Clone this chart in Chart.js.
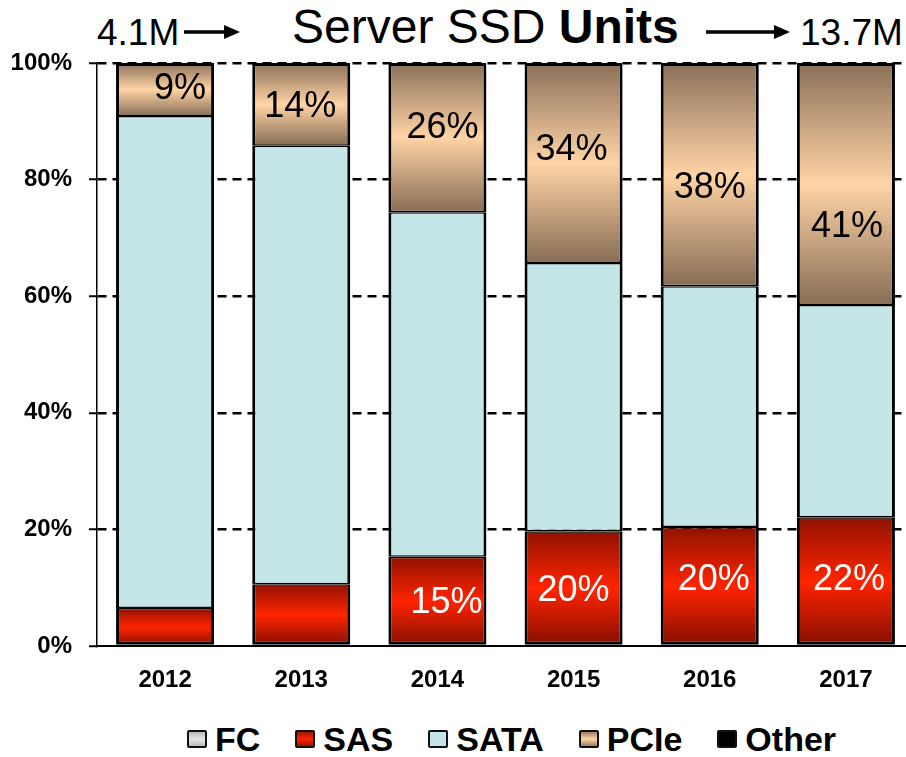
<!DOCTYPE html>
<html>
<head>
<meta charset="utf-8">
<script src="https://cdn.jsdelivr.net/npm/chart.js@4.4.1/dist/chart.umd.min.js"></script>
<style>
  html, body { margin: 0; padding: 0; background: #fff; overflow: hidden; }
  body { width: 906px; height: 757px; position: relative; font-family: "Liberation Sans", Arial, sans-serif; }
  #wrap { position: absolute; left: 0; top: 0; width: 916px; height: 700px; }
  .t { position: absolute; line-height: 1; white-space: nowrap; color: #000; }
  .arrow { position: absolute; }
  #legend { position: absolute; top: 722px; left: 187px; display: flex; align-items: center; }
  #legend .item { display: flex; align-items: center; margin-right: 35px; }
  #legend .box { width: 16px; height: 14px; border: 2px solid #111; border-radius: 2px; margin-right: 8px; }
  #legend .lbl { font-weight: bold; font-size: 34px; line-height: 1; }
</style>
</head>
<body>
<div class="t" style="left:97px; top:14px; font-size:37px;">4.1M</div>
<svg class="arrow" style="left:184px; top:22px;" width="58" height="20">
  <line x1="0" y1="10" x2="44" y2="10" stroke="#000" stroke-width="3.5"/>
  <polygon points="40,3 56,10 40,17" fill="#000"/>
</svg>
<div class="t" style="left:292px; top:3px; font-size:48px;">Server SSD <b>Units</b></div>
<svg class="arrow" style="left:706px; top:22px;" width="86" height="20">
  <line x1="0" y1="10" x2="72" y2="10" stroke="#000" stroke-width="3.5"/>
  <polygon points="68,3 84,10 68,17" fill="#000"/>
</svg>
<div class="t" style="left:800px; top:14px; font-size:37px;">13.7M</div>

<div id="wrap"><canvas id="chart"></canvas></div>
<div id="legend"></div>

<script>
const years = ["2012", "2013", "2014", "2015", "2016", "2017"];
const fcShare = [0, 0, 0, 0, 0, 0];
const sasShare = [6.5, 10.6, 15.3, 19.7, 20.4, 22.1];
const sataShare = [84.4, 75.2, 59.1, 46.0, 41.3, 36.4];
const pcieShare = [9.1, 14.2, 25.6, 34.3, 38.3, 41.5];
const otherShare = [0, 0, 0, 0, 0, 0];
const pcieLabels = ["9%", "14%", "26%", "34%", "38%", "41%"];
const sasLabels = ["", "", "15%", "20%", "20%", "22%"];
const yTicks = [0, 20, 40, 60, 80, 100];

// vertical gradient spanning one stacked segment
function segGradient(stops) {
  return (ctx) => {
    const chart = ctx.chart;
    if (ctx.type !== "data" || !chart.chartArea) return stops[1];
    const i = ctx.dataIndex;
    let base = 0;
    for (let k = 0; k < ctx.datasetIndex; k++) base += chart.data.datasets[k].data[i];
    const y0 = chart.scales.y.getPixelForValue(base + ctx.raw);
    const y1 = chart.scales.y.getPixelForValue(base);
    if (!(y1 > y0)) return stops[1];
    const g = chart.ctx.createLinearGradient(0, y0, 0, y1);
    g.addColorStop(0, stops[0]);
    g.addColorStop(0.5, stops[1]);
    g.addColorStop(1, stops[2]);
    return g;
  };
}

const sasStops = ["#8f1200", "#ff2400", "#830e00"];
const pcieStops = ["#8a7058", "#ffd4a6", "#876d55"];

const segmentLabels = {
  id: "segmentLabels",
  afterDatasetsDraw(chart, args, opts) {
    const { ctx } = chart;
    ctx.save();
    ctx.font = "36px 'Liberation Sans', Arial, sans-serif";
    ctx.textAlign = "center";
    ctx.textBaseline = "middle";
    opts.sets.forEach((s) => {
      const meta = chart.getDatasetMeta(s.dataset);
      meta.data.forEach((bar, i) => {
        const txt = s.labels[i];
        if (!txt) return;
        const off = s.offsets[i];
        ctx.fillStyle = s.color;
        ctx.fillText(txt, bar.x + off[0], (bar.y + bar.base) / 2 + off[1]);
      });
    });
    ctx.restore();
  },
};

const chart = new Chart(document.getElementById("chart"), {
  type: "bar",
  data: {
    labels: years,
    datasets: [
      { label: "FC", data: fcShare, backgroundColor: "#d0d0d0", borderWidth: 0, legendFill: "linear-gradient(#bbb,#e6e6e6,#bbb)" },
      { label: "SAS", data: sasShare, backgroundColor: segGradient(sasStops), borderColor: "#000", borderWidth: { left: 3, right: 3, top: 1.5, bottom: 3 }, legendFill: "linear-gradient(#a01400,#ff2400,#a01400)" },
      { label: "SATA", data: sataShare, backgroundColor: "#c4e6e8", borderColor: "#000", borderWidth: { left: 3, right: 3, top: 1.5, bottom: 1.5 }, legendFill: "#c4e6e8" },
      { label: "PCIe", data: pcieShare, backgroundColor: segGradient(pcieStops), borderColor: "#000", borderWidth: { left: 3, right: 3, top: 3, bottom: 1.5 }, legendFill: "linear-gradient(#9a7e62,#ffd4a6,#9a7e62)" },
      { label: "Other", data: otherShare, backgroundColor: "#000", borderWidth: 0, legendFill: "#000" },
    ],
  },
  options: {
    responsive: true,
    maintainAspectRatio: false,
    animation: false,
    layout: { padding: { left: 0, top: 63, right: 2, bottom: 0 } },
    datasets: { bar: { barPercentage: 0.72, categoryPercentage: 1, borderSkipped: false } },
    plugins: {
      legend: { display: false },
      tooltip: { enabled: false },
      segmentLabels: {
        sets: [
          { dataset: 3, labels: pcieLabels, color: "#000",
            offsets: [[15, 0], [-1, 3], [5, -10], [-2, -13], [0, 13], [1, 43]] },
          { dataset: 1, labels: sasLabels, color: "#fff",
            offsets: [[0, 0], [0, 0], [9, 2], [0, 3], [4, -6], [3, -1]] },
        ],
      },
    },
    scales: {
      x: {
        stacked: true,
        afterFit: (s) => { s.height = 54; },
        grid: { display: false, drawTicks: false },
        border: { display: true, color: "#000", width: 2 },
        ticks: { color: "#000", padding: 20, font: { family: "'Liberation Sans', Arial, sans-serif", size: 24, weight: "bold" } },
      },
      y: {
        stacked: true,
        min: 0,
        max: 100,
        afterFit: (s) => { s.width = 97; },
        afterBuildTicks: (s) => { s.ticks = yTicks.map((v) => ({ value: v })); },
        grid: {
          color: (c) => (c.tick && c.tick.value === 0 ? "rgba(0,0,0,0)" : "#000"),
          lineWidth: 2.5,
          drawTicks: true,
          tickLength: 8,
          tickColor: "#000",
          tickWidth: 2,
          tickBorderDash: [],
        },
        border: { display: true, color: "#000", width: 1.5, dash: [9, 6] },
        ticks: {
          color: "#000",
          padding: 17,
          font: { family: "'Liberation Sans', Arial, sans-serif", size: 24, weight: "bold" },
          callback: (v) => v + "%",
        },
      },
    },
  },
  plugins: [segmentLabels],
});

// legend row built from the chart's datasets
const legend = document.getElementById("legend");
chart.data.datasets.forEach((ds) => {
  const item = document.createElement("div");
  item.className = "item";
  const box = document.createElement("span");
  box.className = "box";
  box.style.background = ds.legendFill;
  const lbl = document.createElement("span");
  lbl.className = "lbl";
  lbl.textContent = ds.label;
  item.appendChild(box);
  item.appendChild(lbl);
  legend.appendChild(item);
});
</script>
</body>
</html>
